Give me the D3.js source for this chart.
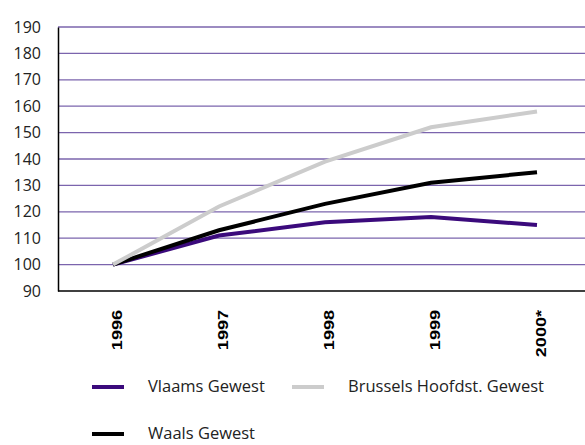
<!DOCTYPE html>
<html>
<head>
<meta charset="utf-8">
<script src="https://cdn.jsdelivr.net/npm/d3@7"></script>
<style>
  body { margin: 0; background: #fff; }
  svg { display: block; }
</style>
</head>
<body>
<div id="chart"></div>
<script>
var years = ['1996', '1997', '1998', '1999', '2000*'];
var vlaams = [100, 111, 116, 118, 115];
var brussel = [100, 122, 139, 152, 158];
var waals = [100, 113, 123, 131, 135];
var yTicks = [90, 100, 110, 120, 130, 140, 150, 160, 170, 180, 190];

function init() {
    'use strict';
    var width = 585, height = 445;
    var left = 58, right = 585, top = 27, bottom = 291;

    var svg = d3.select('#chart').append('svg')
        .attr('width', width)
        .attr('height', height);

    var x = d3.scalePoint().domain(years).range([113, 537]);
    var y = d3.scaleLinear().domain([90, 190]).range([bottom, top]);

    // gridlines
    svg.selectAll('line.grid')
        .data(yTicks.slice(1))
        .enter().append('line')
        .attr('class', 'grid')
        .attr('x1', left).attr('x2', right)
        .attr('y1', function (d) { return y(d); })
        .attr('y2', function (d) { return y(d); })
        .attr('stroke', '#7b64ad')
        .attr('stroke-width', 1.3);

    // y axis
    var yAxis = svg.append('g')
        .attr('transform', 'translate(' + left + ',0)')
        .call(d3.axisLeft(y).tickValues(yTicks).tickSize(0).tickPadding(17));
    yAxis.select('.domain').attr('stroke', '#000').attr('stroke-width', 1.5);
    yAxis.selectAll('text')
        .attr('font-family', '"Open Sans", sans-serif')
        .attr('font-size', 16)
        .attr('fill', '#222');

    // x axis
    var xAxis = svg.append('g')
        .attr('transform', 'translate(0,' + bottom + ')')
        .call(d3.axisBottom(x).tickSize(0));
    xAxis.select('.domain').attr('d', 'M' + left + ',0H' + right)
        .attr('stroke', '#000').attr('stroke-width', 1.5);
    xAxis.selectAll('text')
        .attr('font-family', '"Liberation Sans", Arial, sans-serif')
        .attr('font-weight', 'bold')
        .attr('font-size', 14)
        .attr('fill', '#000')
        .attr('text-anchor', 'end')
        .attr('dy', null)
        .attr('transform', 'translate(5,19) rotate(-90) scale(1.29,1)');

    var series = [
        { name: 'Brussels Hoofdst. Gewest', values: brussel, color: '#cccccc' },
        { name: 'Waals Gewest', values: waals, color: '#000000' },
        { name: 'Vlaams Gewest', values: vlaams, color: '#3b0a7c' }
    ];

    var line = d3.line()
        .x(function (d, i) { return x(years[i]); })
        .y(function (d) { return y(d); });

    // purple drawn first then black, grey on top like the picture
    [series[2], series[1], series[0]].forEach(function (s) {
        svg.append('path')
            .attr('d', line(s.values))
            .attr('fill', 'none')
            .attr('stroke', s.color)
            .attr('stroke-width', 4);
    });

    // legend
    var legend = [
        { s: series[2], x: 92, y: 387 },
        { s: series[0], x: 292, y: 387 },
        { s: series[1], x: 92, y: 434 }
    ];
    var lg = svg.selectAll('g.leg').data(legend).enter().append('g')
        .attr('transform', function (d) { return 'translate(' + d.x + ',' + d.y + ')'; });
    lg.append('line')
        .attr('x1', 0).attr('x2', 32).attr('y1', 0).attr('y2', 0)
        .attr('stroke', function (d) { return d.s.color; })
        .attr('stroke-width', 4);
    lg.append('text')
        .attr('x', 56).attr('y', 5)
        .attr('font-family', '"Open Sans", sans-serif')
        .attr('font-size', 16.5)
        .attr('fill', '#222')
        .text(function (d) { return d.s.name; });
}

window.onload = init;
</script>
</body>
</html>
